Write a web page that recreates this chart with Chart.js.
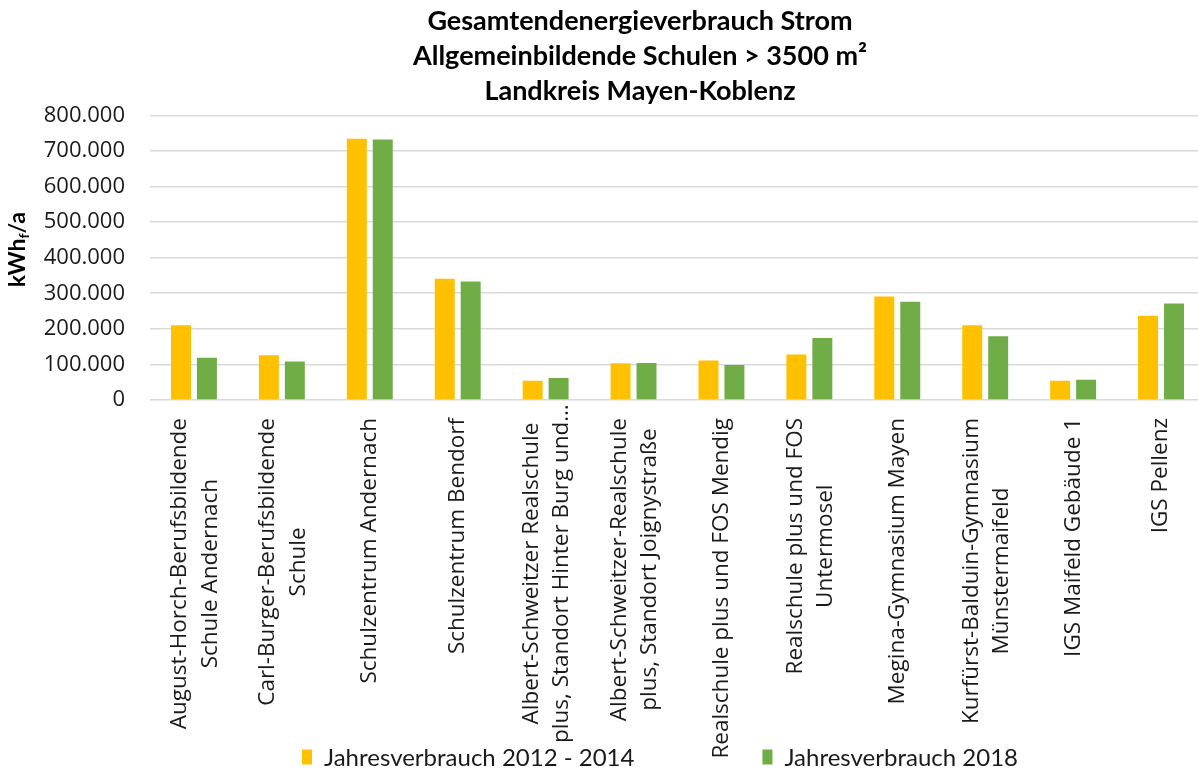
<!DOCTYPE html>
<html><head><meta charset="utf-8">
<script src="https://cdn.jsdelivr.net/npm/chart.js@4.4.1/dist/chart.umd.min.js"></script>
<style>html,body{margin:0;padding:0;overflow:hidden;background:#fff}#wrap{width:1280px;height:771px}</style>
</head><body><div id="wrap"><canvas id="c" width="1280" height="771"></canvas></div>
<script>
const categories = [
  ["August-Horch-Berufsbildende", "Schule Andernach"],
  ["Carl-Burger-Berufsbildende", "Schule"],
  "Schulzentrum Andernach",
  "Schulzentrum Bendorf",
  ["Albert-Schweitzer Realschule", "plus, Standort Hinter Burg und…"],
  ["Albert-Schweitzer-Realschule", "plus, Standort Joignystraße"],
  "Realschule plus und FOS Mendig",
  ["Realschule plus und FOS", "Untermosel"],
  "Megina-Gymnasium Mayen",
  ["Kurfürst-Balduin-Gymnasium", "Münstermaifeld"],
  "IGS Maifeld Gebäude 1",
  "IGS Pellenz"
];
const verbrauch2012_2014 = [210000, 126000, 734000, 341000, 54000, 103000, 111000, 128000, 291000, 210000, 54000, 237000];
const verbrauch2018 = [119000, 108000, 732000, 333000, 62000, 104000, 98000, 174000, 276000, 179000, 57000, 271000];
const seriesNames = ["Jahresverbrauch 2012 - 2014", "Jahresverbrauch 2018"];
const seriesColors = ["#FFC000", "#70AD47"];
const titleLines = ["Gesamtendenergieverbrauch Strom", "Allgemeinbildende Schulen > 3500 m²", "Landkreis Mayen-Koblenz"];
const yMin = 0, yMax = 800000, yStep = 100000;

function fmtDE(v) {
  return String(Math.round(v)).replace(/\B(?=(\d{3})+(?!\d))/g, ".");
}

// Center the lines of multi-line category labels relative to each other (as in the original)
const labelCenterPlugin = {
  id: 'labelCenter',
  beforeDraw(chart) {
    const sc = chart.scales.x;
    const items = sc.getLabelItems(chart.chartArea);
    const ctx = chart.ctx;
    const limit = 743;
    items.forEach(it => {
      if (!Array.isArray(it.label)) return;
      ctx.save();
      ctx.font = it.font.string;
      const L = Math.max(...it.label.map(s => ctx.measureText(s).width));
      ctx.restore();
      const o = it.options;
      let top = o.translation[1];
      if (top + L > limit) top = limit - L;
      o.textAlign = 'center';
      o.translation = [o.translation[0] - 14, top + L / 2];
    });
  }
};

const yTitlePlugin = {
  id: 'yTitle',
  afterDraw(chart) {
    const ctx = chart.ctx;
    const ca = chart.chartArea;
    ctx.save();
    ctx.translate(18, (ca.top + ca.bottom) / 2 - 8);
    ctx.rotate(-Math.PI / 2);
    ctx.fillStyle = '#000';
    ctx.textBaseline = 'middle';
    const big = 'bold 23px Lato', small = 'bold 14px Lato';
    ctx.font = big; const w1 = ctx.measureText('kWh').width, w3 = ctx.measureText('/a').width;
    ctx.font = small; const w2 = ctx.measureText('f').width;
    let x = -(w1 + w2 + w3) / 2;
    ctx.font = big; ctx.textAlign = 'left'; ctx.fillText('kWh', x, 0); x += w1;
    ctx.font = small; ctx.fillText('f', x, 6); x += w2;
    ctx.font = big; ctx.fillText('/a', x, 0);
    ctx.restore();
  }
};

const legendPlugin = {
  id: 'customLegend',
  afterDraw(chart) {
    const ctx = chart.ctx;
    ctx.save();
    ctx.font = '24px Lato';
    ctx.textBaseline = 'middle';
    ctx.textAlign = 'left';
    const boxW = 10, boxH = 15, gap = 12, spacing = 128;
    const widths = seriesNames.map(n => ctx.measureText(n).width);
    const total = widths.reduce((a, w) => a + boxW + gap + w, 0) + spacing * (seriesNames.length - 1);
    let x = 660 - total / 2;
    const yc = 757;
    seriesNames.forEach((n, i) => {
      ctx.fillStyle = seriesColors[i];
      ctx.fillRect(x, yc - boxH / 2, boxW, boxH);
      x += boxW + gap;
      ctx.fillStyle = '#1a1a1a';
      ctx.fillText(n, x, yc + 1);
      x += widths[i] + spacing;
    });
    ctx.restore();
  }
};

function draw() {
  new Chart(document.getElementById('c'), {
    type: 'bar',
    data: {
      labels: categories,
      datasets: [
        { label: seriesNames[0], data: verbrauch2012_2014, backgroundColor: seriesColors[0], categoryPercentage: 0.59, barPercentage: 0.77 },
        { label: seriesNames[1], data: verbrauch2018, backgroundColor: seriesColors[1], categoryPercentage: 0.59, barPercentage: 0.77 }
      ]
    },
    options: {
      responsive: false,
      animation: false,
      devicePixelRatio: 1,
      layout: { padding: 0 },
      plugins: {
        legend: { display: false },
        tooltip: { enabled: false },
        title: {
          display: true,
          text: titleLines,
          color: '#000',
          font: { family: 'Lato', size: 27, weight: 'bold', lineHeight: 1.3 },
          padding: { top: 4, bottom: 6 }
        }
      },
      scales: {
        x: {
          grid: { display: false, drawTicks: false },
          border: { display: false },
          ticks: {
            autoSkip: false, maxRotation: 90, minRotation: 90, padding: 18,
            color: '#1a1a1a',
            font: { family: '"Open Sans"', size: 22.5, lineHeight: 1.35 }
          },
          afterFit(scale) { scale.height = 371; }
        },
        y: {
          min: yMin, max: yMax,
          grid: { color: '#d9d9d9', lineWidth: 1.5, drawTicks: false },
          border: { display: false },
          ticks: {
            stepSize: yStep, padding: 25, color: '#1a1a1a',
            font: { family: '"Open Sans"', size: 22 },
            callback: v => fmtDE(v)
          },
          afterFit(scale) { scale.width = 150; }
        },
        yRight: {
          type: 'linear', position: 'right', min: yMin, max: yMax,
          grid: { display: false, drawTicks: false },
          border: { display: false },
          ticks: { display: false },
          afterFit(scale) { scale.width = 75; }
        }
      }
    },
    plugins: [labelCenterPlugin, yTitlePlugin, legendPlugin]
  });
}

const fontLoads = ['22px "Open Sans"', '22.5px "Open Sans"', 'bold 27px Lato', '24px Lato', 'bold 23px Lato'].map(f => document.fonts.load(f));
Promise.all(fontLoads).then(draw, draw);
</script>
</body></html>
